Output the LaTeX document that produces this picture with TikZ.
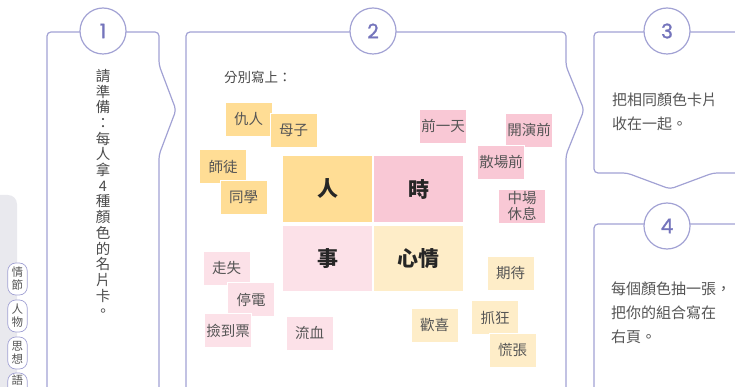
\documentclass[tikz,border=0pt]{standalone}
\usepackage{fontspec}
\setmainfont{Noto Sans CJK TC}
\newfontfamily\numfont[FakeBold=1.2]{Poppins}
\definecolor{lineC}{HTML}{A2A2D4}
\definecolor{numC}{HTML}{7474BC}
\definecolor{cardY}{HTML}{FFDD95}
\definecolor{cardP}{HTML}{F9C8D5}
\definecolor{cardLP}{HTML}{FCE1E8}
\definecolor{cardLY}{HTML}{FEEDC8}
\definecolor{txtC}{HTML}{555555}
\definecolor{greyC}{HTML}{E9E9EE}
\tikzset{
  panel/.style={draw=lineC, line width=1.2pt, rounded corners=4pt},
  numcircle/.style={circle, draw=lineC, line width=1.2pt, fill=white, minimum size=46pt, inner sep=0pt, text=numC, font=\numfont\fontsize{20}{20}\selectfont},
  card/.style={draw=white, line width=0.8pt, minimum width=47pt, minimum height=34pt, inner sep=0pt, text=txtC, align=center, font=\fontsize{14.5}{16}\selectfont},
  bigbox/.style={minimum width=89pt, minimum height=65pt, inner sep=0pt, text=black!85, font=\fontsize{21}{21}\selectfont\bfseries},
  tagshape/.style={draw=lineC, line width=0.7pt, fill=white, rounded corners=8pt},
  tag/.style={tagshape, minimum width=19.5pt, minimum height=32pt, inner sep=0pt, align=center, text=txtC, font=\fontsize{11.5}{13}\selectfont},
  bodytext/.style={text=txtC, align=left, inner sep=0pt, font=\fontsize{15}{24}\selectfont}
}
\begin{document}
\begin{tikzpicture}[x=1pt,y=-1pt]
\useasboundingbox (0,0) rectangle (735,387);
\clip (0,0) rectangle (735,387);
% grey side area
\fill[greyC, rounded corners=9pt] (-10,195) -- (17,195) -- (17,400) -- (-10,400) -- cycle;
% tags
\node[tag] (t1) at (17.5,279) {情\\節};
\node[tag] (t2) at (17.5,316) {人\\物};
\node[tag] (t3) at (17.5,353) {思\\想};
\draw[tagshape] (7.75,373) rectangle (27.25,410);
\node[text=txtC, inner sep=0pt, font=\fontsize{11.5}{13}\selectfont] (t4) at (17.5,380.5) {語};
% panels
\draw[panel] (47,400) -- (47,32) -- (159,32) -- (159,65) -- (176,110) -- (159,155) -- (159,400);
\draw[panel] (186,400) -- (186,32) -- (566,32) -- (566,66) -- (584,110) -- (566,155) -- (566,400);
\draw[panel] (745,32) -- (594,32) -- (594,173) -- (627,173) -- (670,189) -- (713,173) -- (745,173);
\draw[panel] (745,224) -- (594,224) -- (594,400);
% circles
\node[numcircle] (c1) at (103,31) {1};
\node[numcircle] (c2) at (373,31) {2};
\node[numcircle] (c3) at (667,31) {3};
\node[numcircle] (c4) at (667,226) {4};
% panel 1 text
\node[text=txtC!90!black, align=center, inner sep=0pt, anchor=north, font=\fontsize{14.5}{15.7}\selectfont] (p1) at (103,69) {請\\準\\備\\：\\每\\人\\拿\\4\\種\\顏\\色\\的\\名\\片\\卡\\。};
% panel 2 heading
\node[anchor=west, inner sep=0pt, text=txtC!85!black, font=\fontsize{13.5}{14}\selectfont] (h2) at (224,77) {分別寫上：};
% big boxes
\node[bigbox, fill=cardY] (bR) at (327.5,189) {人};
\node[bigbox, fill=cardP] (bS) at (418.5,189) {時};
\node[bigbox, fill=cardLP] (bE) at (327.5,258.5) {事};
\node[bigbox, fill=cardLY] (bX) at (418.5,258.5) {心情};
% small cards: people
\node[card, fill=cardY] (k1) at (248.5,119.5) {仇人};
\node[card, fill=cardY] (k2) at (293.5,130) {母子};
\node[card, fill=cardY] (k3) at (223,166.5) {師徒};
\node[card, fill=cardY] (k4) at (243.5,197) {同學};
% events
\node[card, fill=cardLP] (e1) at (226.5,268.5) {走失};
\node[card, fill=cardLP] (e2) at (251,299.5) {停電};
\node[card, fill=cardLP] (e3) at (228,330.5) {撿到票};
\node[card, fill=cardLP] (e4) at (309.5,333) {流血};
% times
\node[card, fill=cardP] (s1) at (443,126) {前一天};
\node[card, fill=cardP] (s2) at (529,130) {開演前};
\node[card, fill=cardP] (s3) at (501,162) {散場前};
\node[card, fill=cardP, font=\fontsize{14.5}{15.5}\selectfont] (s4) at (522,206) {中場\\休息};
% moods
\node[card, fill=cardLY] (m1) at (510.5,273) {期待};
\node[card, fill=cardLY] (m2) at (434.5,325) {歡喜};
\node[card, fill=cardLY] (m3) at (495,317.5) {抓狂};
\node[card, fill=cardLY] (m4) at (512.5,350.5) {慌張};
% panel 3 and 4 text
\node[bodytext, anchor=north west] (p3) at (612,93) {把相同顏色卡片\\收在一起。};
\node[bodytext, anchor=north west] (p4) at (611,282) {每個顏色抽一張，\\把你的組合寫在\\右頁。};
\end{tikzpicture}
\end{document}
